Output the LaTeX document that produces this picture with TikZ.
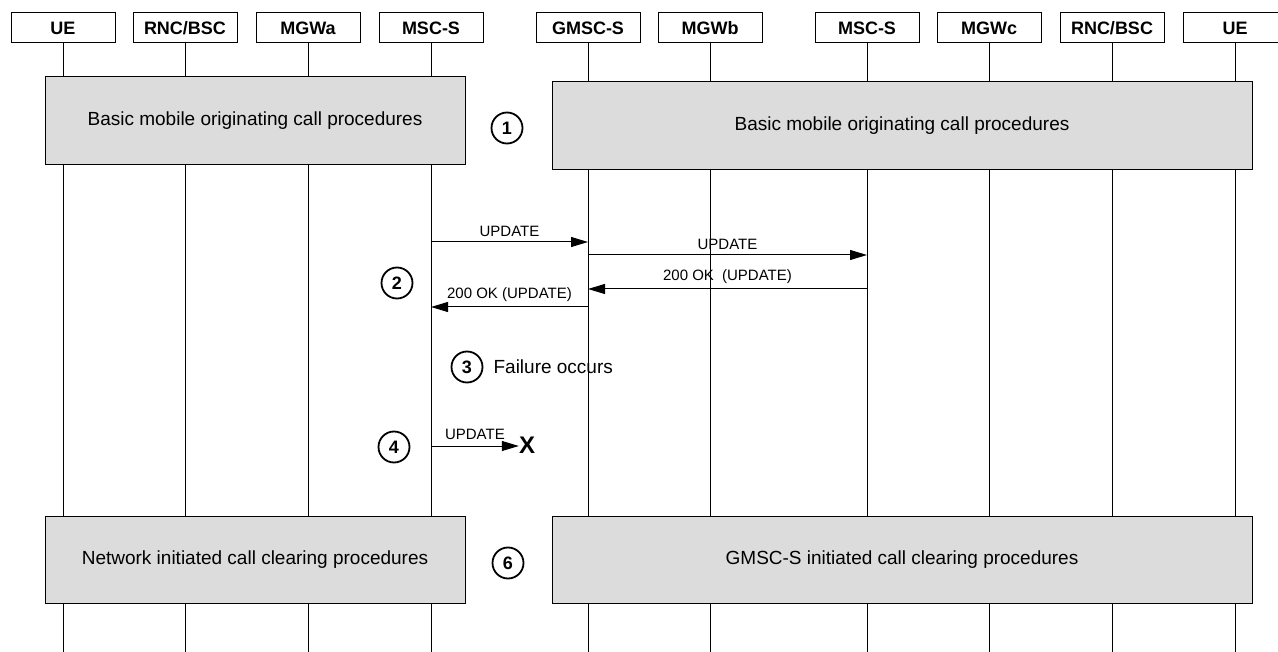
\documentclass[tikz,border=0pt]{standalone}
\usepackage{fontspec}
\setmainfont{Liberation Sans}
\usetikzlibrary{arrows.meta,positioning}
\definecolor{procgray}{HTML}{DCDCDC}

\begin{document}
\begin{tikzpicture}[x=1pt,y=-1pt,
		entity/.style={draw,line width=1pt,minimum width=104pt,minimum height=30pt,inner sep=0pt,font=\fontsize{18}{20}\selectfont\bfseries},
		life/.style={line width=1pt},
		proc/.style={draw,fill=procgray,line width=1pt,inner sep=0pt,font=\fontsize{19}{22}\selectfont},
		msg/.style={line width=1pt,-{Triangle[length=17pt,width=10pt]}},
		lbl/.style={font=\fontsize{15}{17}\selectfont,inner sep=1pt},
		stepmark/.style={circle,draw,line width=1.8pt,minimum size=31pt,inner sep=0pt,font=\fontsize{18}{20}\selectfont\bfseries},
		note/.style={font=\fontsize{19}{22}\selectfont,inner sep=1pt}]
		\useasboundingbox (0,0) rectangle (1278,652);
		%%%
		\node[entity] (ueA) at (63,28) {UE};
		\node[entity] (rncA) at (185,28) {RNC/BSC};
		\node[entity] (mgwA) at (308,28) {MGWa};
		\node[entity] (mscA) at (431,28) {MSC-S};
		\node[entity] (gmsc) at (588,28) {GMSC-S};
		\node[entity] (mgwB) at (710,28) {MGWb};
		\node[entity] (mscC) at (867,28) {MSC-S};
		\node[entity] (mgwC) at (989,28) {MGWc};
		\node[entity] (rncC) at (1112,28) {RNC/BSC};
		\node[entity] (ueC) at (1235,28) {UE};
		%%%
		\draw[life] (ueA.south) -- (ueA.south |- 0,652);
		\draw[life] (rncA.south) -- (rncA.south |- 0,652);
		\draw[life] (mgwA.south) -- (mgwA.south |- 0,652);
		\draw[life] (mscA.south) -- (mscA.south |- 0,652);
		\draw[life] (gmsc.south) -- (gmsc.south |- 0,652);
		\draw[life] (mgwB.south) -- (mgwB.south |- 0,652);
		\draw[life] (mscC.south) -- (mscC.south |- 0,652);
		\draw[life] (mgwC.south) -- (mgwC.south |- 0,652);
		\draw[life] (rncC.south) -- (rncC.south |- 0,652);
		\draw[life] (ueC.south) -- (ueC.south |- 0,652);
		%%%
		\node[proc,minimum width=420pt,minimum height=88pt] (origA) at (255,121) {Basic mobile originating call procedures};
		\node[proc,minimum width=700pt,minimum height=88pt] (origC) at (902,126) {Basic mobile originating call procedures};
		\node[stepmark] (s1) at (507,128) {1};
		%%%
		\draw[msg] (mscA.south |- 0,242) -- node[lbl,above=4pt] {UPDATE} (gmsc.south |- 0,242);
		\draw[msg] (gmsc.south |- 0,255) -- node[lbl,above=4pt] {UPDATE} (mscC.south |- 0,255);
		\draw[msg] (mscC.south |- 0,289) -- node[lbl,above=4pt] {200 OK\hspace{4pt} (UPDATE)} (gmsc.south |- 0,289);
		\draw[msg] (gmsc.south |- 0,307) -- node[lbl,above=4pt] {200 OK (UPDATE)} (mscA.south |- 0,307);
		\node[stepmark] (s2) at (397,283) {2};
		%%%
		\node[stepmark] (s3) at (467,367) {3};
		\node[note,right=9pt of s3] (fail) {Failure occurs};
		%%%
		\node[stepmark] (s4) at (394,447) {4};
		\node[inner sep=0pt,font=\fontsize{24}{24}\selectfont\bfseries] (lost) at (527,445) {X};
		\draw[msg] (mscA.south |- 0,446) -- node[lbl,above=5pt] {UPDATE} (lost.west |- 0,446);
		%%%
		\node[proc,minimum width=420pt,minimum height=87pt] (clearA) at (255,559.5) {Network initiated call clearing procedures};
		\node[proc,minimum width=700pt,minimum height=87pt] (clearC) at (902,559.5) {GMSC-S initiated call clearing procedures};
		\node[stepmark] (s6) at (508,563) {6};
	\end{tikzpicture}
\end{document}
